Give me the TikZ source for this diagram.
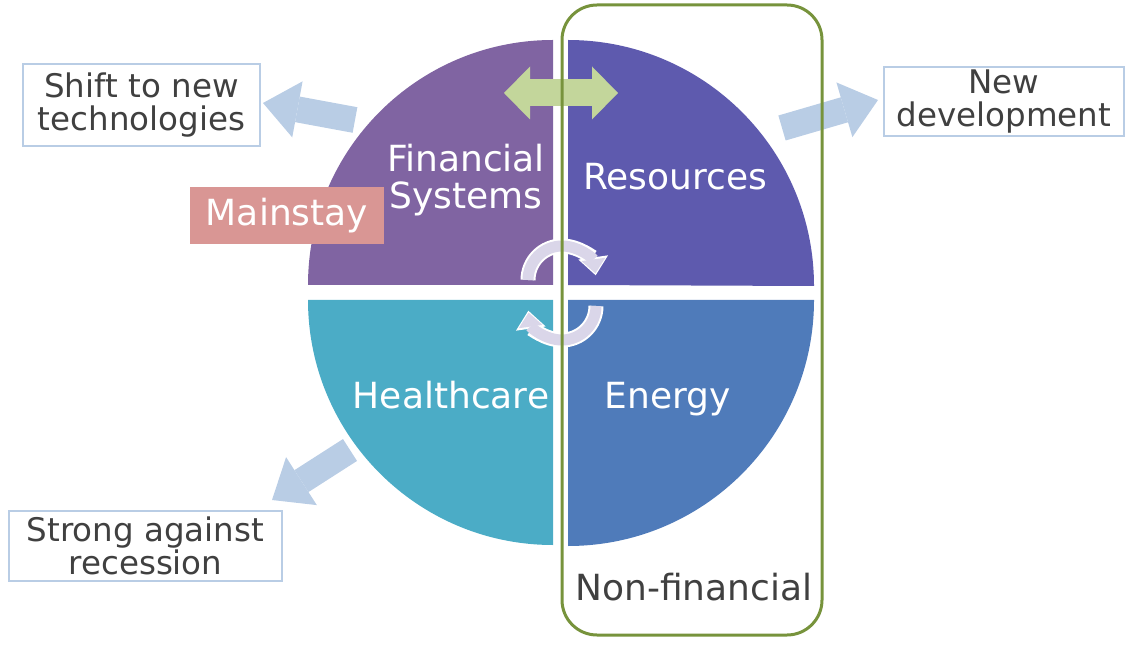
\documentclass[tikz,border=0pt]{standalone}
\usepackage{fontspec}
\setmainfont{DejaVu Sans}
\usepackage{tikz}
\usetikzlibrary{shapes,arrows,arrows.meta,positioning}

\definecolor{finpurple}{HTML}{8064A2}
\definecolor{respurple}{HTML}{5E5AAE}
\definecolor{healthblue}{HTML}{4BACC6}
\definecolor{energyblue}{HTML}{4F7BBA}
\definecolor{framegreen}{HTML}{77933C}
\definecolor{arrowgreen}{HTML}{C3D69B}
\definecolor{arrowblue}{HTML}{B9CDE5}
\definecolor{mainred}{HTML}{D99694}
\definecolor{cyclegray}{HTML}{DAD6E9}
\definecolor{textgray}{HTML}{404040}

\begin{document}
\begin{tikzpicture}[x=1pt,y=1pt,
	quarter/.style={text=white,font=\fontsize{36}{37}\selectfont,align=center},
	outcome/.style={draw=arrowblue,line width=2.5pt,fill=white,text=textgray,font=\fontsize{32.5}{32.5}\selectfont,align=center,inner sep=0pt},
	blockarrow/.style={arrowblue,line width=26pt,-{Triangle[length=35pt,width=57pt,line width=0pt]}},
	swaparrow/.style={arrowgreen,line width=27pt,{Triangle[length=26pt,width=53pt,line width=0pt]}-{Triangle[length=26pt,width=53pt,line width=0pt]}},
	cyclewhite/.style={white,line width=15pt,-{Triangle[length=18pt,width=30pt,line width=0pt]}},
	cyclefill/.style={cyclegray,line width=11pt,shorten >=2pt,-{Triangle[length=14pt,width=24pt,line width=0pt]}}]
	\useasboundingbox (0,0) rectangle (1129,654);
	
	% the four quarters
	\fill[finpurple] (553,369) -- (308,369) arc[start angle=180,end angle=90,radius=245] -- cycle;
	\fill[respurple] (568,369) -- (568,614) arc[start angle=90,end angle=0,radius=246] -- cycle;
	\fill[energyblue] (568,354) -- (814,354) arc[start angle=0,end angle=-90,radius=246] -- cycle;
	\fill[healthblue] (553,354) -- (553,109) arc[start angle=270,end angle=180,radius=245] -- cycle;
	
	\node[quarter] (fin) at (466,474) {Financial\\Systems};
	\node[quarter,anchor=base] (res) at (675,464) {Resources};
	\node[quarter,anchor=base] (hea) at (451,246) {Healthcare};
	\node[quarter,anchor=base] (ene) at (668,246) {Energy};
	\node[fill=mainred,text=white,font=\fontsize{36}{37}\selectfont,minimum width=194pt,minimum height=57pt,inner sep=0pt] (main) at (287,438.5) {Mainstay};
	
	\coordinate (swapl) at (504,561);
	\coordinate (swapr) at (618,561);
	\draw[swaparrow] (swapl) -- (swapr);
	
	% turning arrows in the middle
	\coordinate (cycup) at (528,374);
	\coordinate (cycdown) at (596,348);
	\draw[cyclewhite] (cycup) arc[start angle=180,end angle=8,radius=34];
	\draw[cyclefill] (cycup) arc[start angle=180,end angle=8,radius=34];
	\draw[cyclewhite] (cycdown) arc[start angle=0,end angle=-172,radius=34];
	\draw[cyclefill] (cycdown) arc[start angle=0,end angle=-172,radius=34];
	
	\node[outcome,minimum width=237pt,minimum height=82pt] (shift) at (141.5,549) {Shift to new\\technologies};
	\node[outcome,minimum width=240pt,minimum height=69pt] (newdev) at (1004,552.5) {New\\development};
	\node[outcome,minimum width=273pt,minimum height=70pt] (strong) at (145.5,108) {Strong against\\recession};
	
	\coordinate (shift0) at (355,534);
	\coordinate (shift1) at (263,551);
	\coordinate (newdev0) at (782,526);
	\coordinate (newdev1) at (878,554);
	\coordinate (strong0) at (350,204);
	\coordinate (strong1) at (272,154);
	\draw[blockarrow] (shift0) -- (shift1);
	\draw[blockarrow] (newdev0) -- (newdev1);
	\draw[blockarrow] (strong0) -- (strong1);
	
	\draw[framegreen,line width=3pt,rounded corners=35pt] (562,649) rectangle (822,19);
	\node[text=textgray,font=\fontsize{36}{37}\selectfont,anchor=base] (nonfin) at (694,54) {Non-financial};
\end{tikzpicture}
\end{document}
